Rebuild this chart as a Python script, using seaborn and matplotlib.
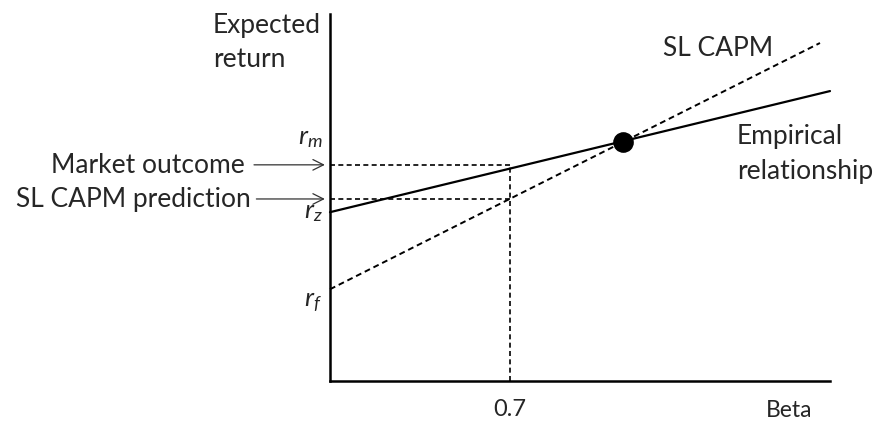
import matplotlib
matplotlib.use("Agg")
import matplotlib.pyplot as plt
import seaborn as sns
import pandas as pd

# schematic values (beta, expected return)
r_f = 2.5
r_z = 4.6
r_m = 6.5
beta_m = 1.14
beta_pt = 0.7

sl_capm_beta = [0.0, 1.906]
sl_capm_ret = [2.5, 9.21]
emp_beta = [0.0, 1.945]
emp_ret = [4.6, 7.9]

market_outcome = 5.89    # empirical line at beta 0.7
capm_prediction = 4.96   # SL CAPM at beta 0.7

sns.set_style("white")
plt.rcParams['font.family'] = ['Lato', 'DejaVu Sans']
plt.rcParams['mathtext.fontset'] = 'custom'
plt.rcParams['mathtext.it'] = 'Lato:italic'
plt.rcParams['mathtext.rm'] = 'Lato'

FS = 19

fig = plt.figure(figsize=(8.84, 4.27), dpi=100)
ax = fig.add_axes([330 / 884, 45 / 427, 500 / 884, 367 / 427])

df_sl = pd.DataFrame({'beta': sl_capm_beta, 'ret': sl_capm_ret})
df_emp = pd.DataFrame({'beta': emp_beta, 'ret': emp_ret})

sns.lineplot(data=df_sl, x='beta', y='ret', ax=ax, color='black', lw=1.4,
             linestyle=(0, (3, 2)), clip_on=False)
sns.lineplot(data=df_emp, x='beta', y='ret', ax=ax, color='black', lw=1.6,
             clip_on=False)

# guide lines at beta 0.7
ax.plot([0, beta_pt], [market_outcome, market_outcome], color='black', lw=1.2,
        linestyle=(0, (3, 2)))
ax.plot([0, beta_pt], [capm_prediction, capm_prediction], color='black', lw=1.2,
        linestyle=(0, (3, 2)))
ax.plot([beta_pt, beta_pt], [0, market_outcome], color='black', lw=1.2,
        linestyle=(0, (3, 2)))

sns.scatterplot(x=[beta_m], y=[r_m], ax=ax, color='black', s=190, zorder=5,
                edgecolor='black', clip_on=False)

ax.set_xlim(0, 1.945)
ax.set_ylim(0, 10)

for s in ['top', 'right']:
    ax.spines[s].set_visible(False)
for s in ['left', 'bottom']:
    ax.spines[s].set_color('black')
    ax.spines[s].set_linewidth(1.8)

ax.set_xticks([beta_pt])
ax.set_xticklabels(['0.7'], fontsize=17)
ax.tick_params(axis='x', direction='inout', length=6, width=1, pad=9)
ax.set_yticks([r_f, r_z, r_m])
ax.set_yticklabels([])
ax.tick_params(axis='y', length=0)
ax.set_xlabel('')
ax.set_ylabel('')

# y labels (italic r with subscripts)
ax.text(-0.03, r_m + 0.15, r'$r_m$', fontsize=19, ha='right', va='center')
ax.text(-0.03, r_z + 0.05, r'$r_z$', fontsize=19, ha='right', va='center')
ax.text(-0.03, r_f - 0.3, r'$r_f$', fontsize=19, ha='right', va='center')

ax.text(-0.455, 10.05, 'Expected\nreturn', fontsize=FS, ha='left', va='top',
        linespacing=1.45, clip_on=False)
ax.text(1.785, -0.78, 'Beta', fontsize=16.5, ha='center', va='center')
ax.text(1.295, 9.1, 'SL CAPM', fontsize=FS, ha='left', va='center')
ax.text(1.583, 6.2, 'Empirical\nrelationship', fontsize=FS, ha='left',
        va='center', linespacing=1.5)

# arrows pointing to the axis
ax.annotate('Market outcome', xy=(-0.02, market_outcome), xytext=(-0.33, market_outcome),
            fontsize=FS, ha='right', va='center', annotation_clip=False,
            arrowprops=dict(arrowstyle='->', color='#333333', lw=0.9,
                            shrinkA=4, shrinkB=0))
ax.annotate('SL CAPM prediction', xy=(-0.02, capm_prediction),
            xytext=(-0.31, capm_prediction),
            fontsize=FS, ha='right', va='center', annotation_clip=False,
            arrowprops=dict(arrowstyle='->', color='#333333', lw=0.9,
                            shrinkA=2, shrinkB=0))

fig.savefig("out.png", dpi=100)
